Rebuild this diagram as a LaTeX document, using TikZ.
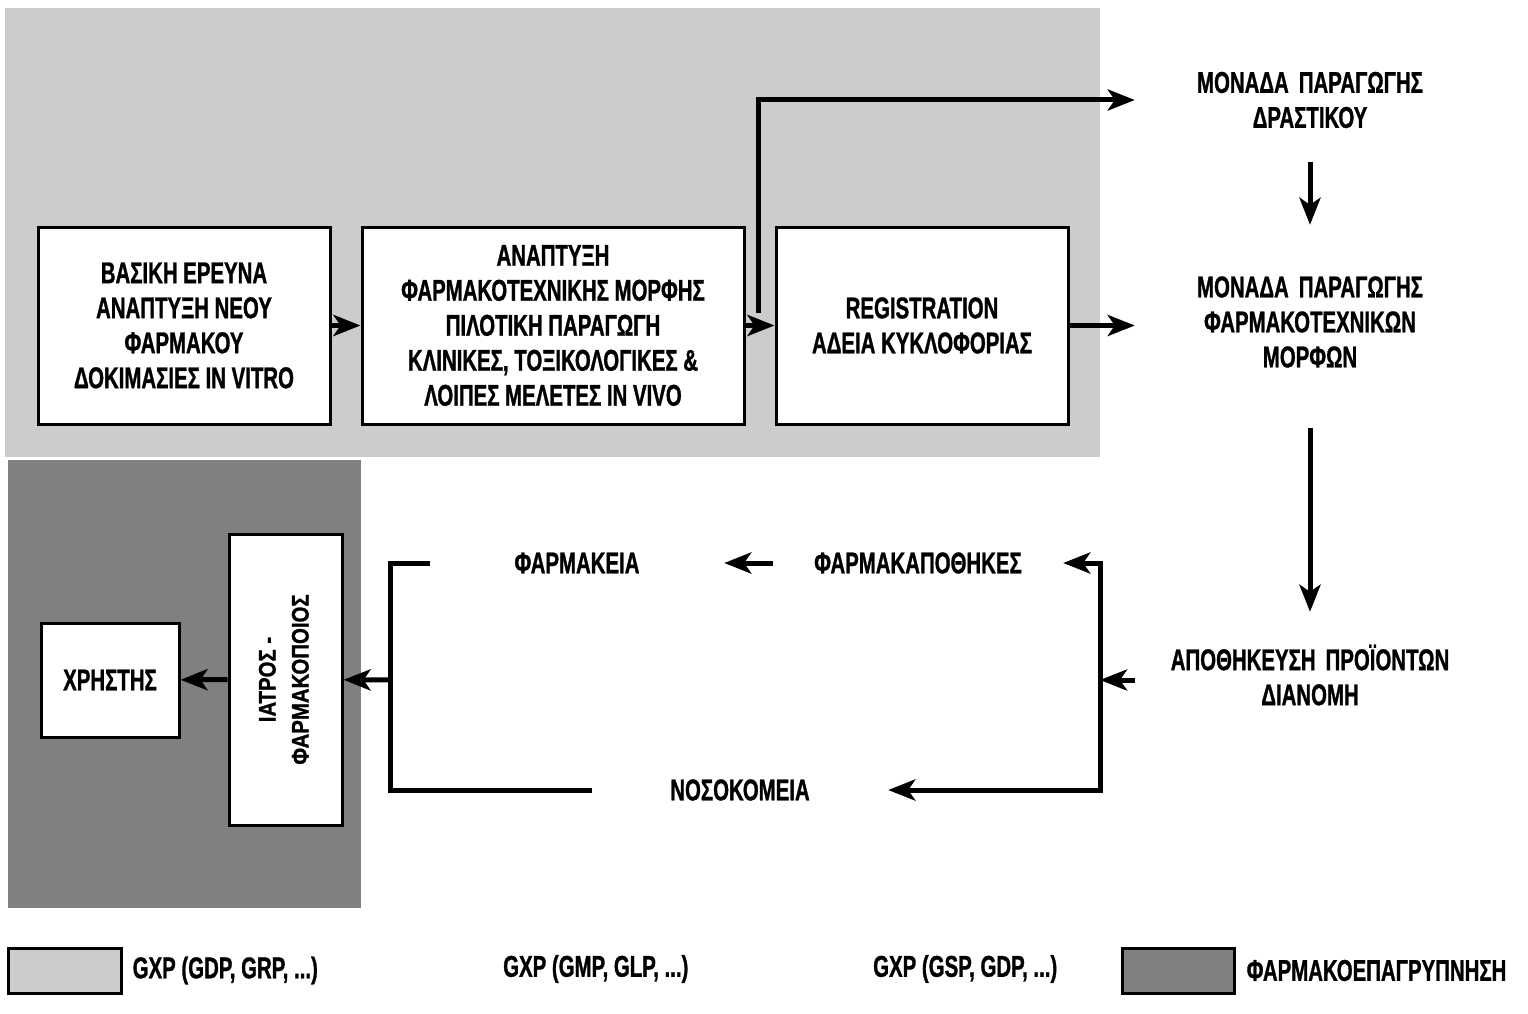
\documentclass[tikz,border=0pt]{standalone}
\usepackage{fontspec}
\setmainfont{Liberation Sans}[FakeStretch=0.68, FakeBold=1]
\newfontfamily\widefont{Liberation Sans Bold}[FakeStretch=0.85, FakeBold=1]
\usepackage{graphicx}
\usetikzlibrary{arrows.meta, positioning}
\definecolor{lightshade}{HTML}{CCCCCC}
\definecolor{darkshade}{HTML}{808080}
\tikzset{
  box/.style={rectangle, draw, line width=3pt, fill=white, align=center, inner sep=0pt},
  textnode/.style={rectangle, align=center, inner sep=0pt},
  txt/.style={font=\bfseries\fontsize{30}{35}\selectfont},
  arrow/.style={-{Stealth[length=27pt, width=21pt, inset=7pt]}, line width=5pt},
  link/.style={line width=5pt},
}

\begin{document}
\begin{tikzpicture}[x=1pt, y=-1pt]
    \useasboundingbox (0,0) rectangle (1528,1014);
    \fill[lightshade] (5,8) rectangle (1100,457);
    \fill[darkshade] (8,460) rectangle (361,908);

    % research and registration
    \node[box, txt, minimum width=292pt, minimum height=197pt] (research) at (184,325.5) {ΒΑΣΙΚΗ ΕΡΕΥΝΑ\\ΑΝΑΠΤΥΞΗ ΝΕΟΥ\\ΦΑΡΜΑΚΟΥ\\ΔΟΚΙΜΑΣΙΕΣ IN VITRO};
    \node[box, txt, minimum width=382pt, minimum height=197pt, right=29pt of research] (formdev) {ΑΝΑΠΤΥΞΗ\\ΦΑΡΜΑΚΟΤΕΧΝΙΚΗΣ ΜΟΡΦΗΣ\\ΠΙΛΟΤΙΚΗ ΠΑΡΑΓΩΓΗ\\ΚΛΙΝΙΚΕΣ, ΤΟΞΙΚΟΛΟΓΙΚΕΣ \&\\ΛΟΙΠΕΣ ΜΕΛΕΤΕΣ IN VIVO};
    \node[box, txt, minimum width=292pt, minimum height=197pt, right=29pt of formdev] (registration) {REGISTRATION\\ΑΔΕΙΑ ΚΥΚΛΟΦΟΡΙΑΣ};

    % production
    \node[textnode, txt, text width=350pt, minimum height=124pt] (activeunit) at (1310,100) {ΜΟΝΑΔΑ ΠΑΡΑΓΩΓΗΣ\\ΔΡΑΣΤΙΚΟΥ};
    \node[textnode, txt, text width=350pt, minimum height=194pt] (formunit) at (1310,322) {ΜΟΝΑΔΑ ΠΑΡΑΓΩΓΗΣ\\ΦΑΡΜΑΚΟΤΕΧΝΙΚΩΝ\\ΜΟΡΦΩΝ};
    \node[textnode, txt, text width=350pt, minimum height=126pt] (storage) at (1310,675) {ΑΠΟΘΗΚΕΥΣΗ ΠΡΟΪΟΝΤΩΝ\\ΔΙΑΝΟΜΗ};

    % distribution
    \node[textnode, txt, text width=290pt] (wholesale) at (918,563) {ΦΑΡΜΑΚΑΠΟΘΗΚΕΣ};
    \node[textnode, txt, text width=294pt] (pharmacies) at (577,563) {ΦΑΡΜΑΚΕΙΑ};
    \node[textnode, txt, text width=296pt] (hospitals) at (740,790) {ΝΟΣΟΚΟΜΕΙΑ};

    % use
    \node[box, minimum width=113pt, minimum height=291pt] (prescriber) at (285.5,679.5) {\rotatebox{90}{\widefont\fontsize{24}{33}\selectfont\begin{tabular}{@{}c@{}}ΙΑΤΡΟΣ -\\ΦΑΡΜΑΚΟΠΟΙΟΣ\end{tabular}}};
    \node[box, txt, minimum width=138pt, minimum height=114pt] (user) at (110,680) {ΧΡΗΣΤΗΣ};

    \draw[arrow] (research) -- (formdev);
    \draw[arrow] (formdev) -- (registration);
    \coordinate (branch) at (758,313);
    \draw[arrow] (branch) |- (activeunit.west);
    \draw[arrow] (registration.east) -- (registration.east -| formunit.west);
    \draw[arrow] (activeunit) -- (formunit);
    \draw[arrow, shorten <=9pt] (formunit) -- (storage);

    \coordinate (split) at (1100,680);
    \draw[arrow] (storage.west |- split) -- (split);
    \draw[arrow] (split) |- (wholesale.east);
    \draw[arrow] (split) |- (hospitals.east);
    \draw[arrow] (wholesale) -- (pharmacies);
    \coordinate (merge) at (390,680);
    \draw[link] (pharmacies.west) -| (merge) |- (hospitals.west);
    \draw[arrow] (merge) -- (prescriber);
    \draw[arrow] (prescriber) -- (user);

    % legend
    \node[box, fill=lightshade, minimum width=113pt, minimum height=45pt] (keyresearch) at (64.5,970.5) {};
    \node[textnode, txt, right=10pt of keyresearch] (keyresearchtxt) {GXP (GDP, GRP, ...)};
    \node[textnode, txt, anchor=west] (keyproduction) at (503,969) {GXP (GMP, GLP, ...)};
    \node[textnode, txt, anchor=west] (keydistribution) at (873,969) {GXP (GSP, GDP, ...)};
    \node[box, fill=darkshade, minimum width=112pt, minimum height=45pt] (keyvigilance) at (1178,970.5) {};
    \node[textnode, txt, right=11pt of keyvigilance] (keyvigilancetxt) {ΦΑΡΜΑΚΟΕΠΑΓΡΥΠΝΗΣΗ};
\end{tikzpicture}
\end{document}
